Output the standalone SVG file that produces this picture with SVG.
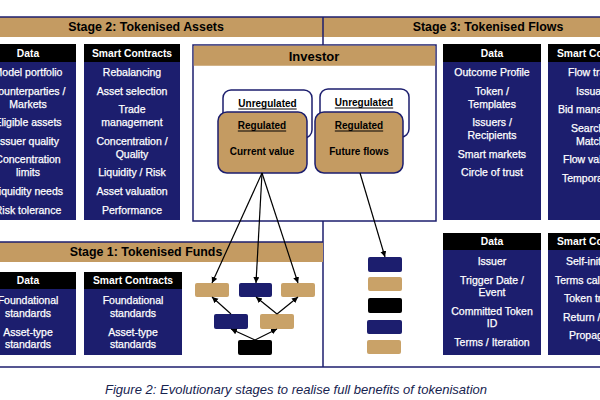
<svg xmlns="http://www.w3.org/2000/svg" width="600" height="400" viewBox="0 0 600 400">
<style>
.bar{fill:#C49B62}
.navy{fill:#1C1E6E}
.hdr{fill:#000}
.line{stroke:#1C1E6E;stroke-width:1.5;fill:none}
.stage{font-family:"Liberation Sans",Arial,sans-serif;font-weight:700;font-size:12.4px;fill:#000;text-anchor:middle;dominant-baseline:central}
.ht{font-family:"Liberation Sans",Arial,sans-serif;font-weight:700;font-size:10.3px;fill:#fff;text-anchor:middle;dominant-baseline:central}
.bt{font-family:"Liberation Sans",Arial,sans-serif;font-size:10.5px;fill:#fff;stroke:#fff;stroke-width:0.25;text-anchor:middle;dominant-baseline:central}
.bts{font-family:"Liberation Sans",Arial,sans-serif;font-size:10.5px;fill:#fff;stroke:#fff;stroke-width:0.25;text-anchor:start;dominant-baseline:central}
.bth{font-family:"Liberation Sans",Arial,sans-serif;font-weight:700;font-size:10.3px;fill:#fff;text-anchor:start;dominant-baseline:central}
.rt{font-family:"Liberation Sans",Arial,sans-serif;font-weight:700;font-size:10px;fill:#000;text-anchor:middle;dominant-baseline:central}
.ul{text-decoration:underline}
.unreg{fill:#fff;stroke:#1C1E6E;stroke-width:1.5}
.reg{fill:#C49B62;stroke:#1C1E6E;stroke-width:1.5}
.tan{fill:#C9A268}
.conn{stroke:#000;stroke-width:1.2;fill:none;marker-end:url(#ah)}
</style>
<defs>
<marker id="ah" markerUnits="userSpaceOnUse" markerWidth="7" markerHeight="7" refX="6" refY="3" orient="auto">
<path d="M0,0 L6,3 L0,6 z" fill="#000"/>
</marker>
</defs>
<rect width="600" height="400" fill="#fff"/>

<!-- frame -->
<g id="frame">
<rect class="bar" x="0" y="17" width="600" height="20"/>
<line class="line" x1="0" y1="17" x2="600" y2="17"/>
<line class="line" x1="323" y1="17" x2="323" y2="45"/>
<line class="line" x1="323" y1="221" x2="323" y2="367"/>
<rect class="bar" x="0" y="242" width="323" height="20"/>
<line class="line" x1="0" y1="242" x2="323" y2="242"/>
<line class="line" x1="0" y1="367" x2="600" y2="367"/>
<text class="stage" x="146" y="27">Stage 2: Tokenised Assets</text>
<text class="stage" x="488" y="27">Stage 3: Tokenised Flows</text>
<text class="stage" x="146" y="252">Stage 1: Tokenised Funds</text>
</g>

<!-- Stage 2 Data -->
<g id="s2-data">
<rect class="navy" x="-20" y="62" width="96" height="158"/>
<rect class="hdr" x="-20" y="44" width="96" height="18"/>
<text class="ht" x="28" y="53">Data</text>
<text class="bt" x="28" y="72">Model portfolio</text>
<text class="bt" x="28" y="91">Counterparties /</text>
<text class="bt" x="28" y="104">Markets</text>
<text class="bt" x="28" y="122">Eligible assets</text>
<text class="bt" x="28" y="141">Issuer quality</text>
<text class="bt" x="28" y="159">Concentration</text>
<text class="bt" x="28" y="172">limits</text>
<text class="bt" x="28" y="191">Liquidity needs</text>
<text class="bt" x="28" y="210">Risk tolerance</text>
</g>

<!-- Stage 2 Smart Contracts -->
<g id="s2-sc">
<rect class="navy" x="84" y="62" width="96" height="158"/>
<rect class="hdr" x="84" y="44" width="96" height="18"/>
<text class="ht" x="132" y="53">Smart Contracts</text>
<text class="bt" x="132" y="72">Rebalancing</text>
<text class="bt" x="132" y="91">Asset selection</text>
<text class="bt" x="132" y="109">Trade</text>
<text class="bt" x="132" y="122">management</text>
<text class="bt" x="132" y="141">Concentration /</text>
<text class="bt" x="132" y="154">Quality</text>
<text class="bt" x="132" y="172">Liquidity / Risk</text>
<text class="bt" x="132" y="191">Asset valuation</text>
<text class="bt" x="132" y="210">Performance</text>
</g>

<!-- Investor -->
<g id="investor">
<rect x="193" y="45" width="243" height="176" fill="#fff" stroke="#1C1E6E" stroke-width="1.5"/>
<rect class="bar" x="193.75" y="45.75" width="241.5" height="20"/>
<text class="stage" x="314" y="56" style="font-size:13px">Investor</text>
</g>

<g id="current-value">
<rect class="unreg" x="223" y="90" width="89" height="48" rx="8"/>
<text class="rt ul" x="267.5" y="103">Unregulated</text>
<rect class="reg" x="218" y="112" width="89" height="61" rx="9"/>
<text class="rt ul" x="262" y="125">Regulated</text>
<text class="rt" x="262" y="151">Current value</text>
</g>

<g id="future-flows">
<rect class="unreg" x="320" y="89" width="89" height="48" rx="8"/>
<text class="rt ul" x="364" y="102">Unregulated</text>
<rect class="reg" x="315" y="112" width="88" height="61" rx="9"/>
<text class="rt ul" x="359" y="125">Regulated</text>
<text class="rt" x="359" y="151">Future flows</text>
</g>

<!-- Stage 3 Data -->
<g id="s3-data">
<rect class="navy" x="443" y="62" width="98" height="158"/>
<rect class="hdr" x="443" y="44" width="98" height="18"/>
<text class="ht" x="492" y="53">Data</text>
<text class="bt" x="492" y="72">Outcome Profile</text>
<text class="bt" x="492" y="91">Token /</text>
<text class="bt" x="492" y="104">Templates</text>
<text class="bt" x="492" y="122">Issuers /</text>
<text class="bt" x="492" y="135">Recipients</text>
<text class="bt" x="492" y="154">Smart markets</text>
<text class="bt" x="492" y="172">Circle of trust</text>
</g>

<!-- Stage 3 Smart Contracts (clipped at edge) -->
<g id="s3-sc">
<rect class="navy" x="548" y="62" width="98" height="158"/>
<rect class="hdr" x="548" y="44" width="98" height="18"/>
<text class="bth" x="557" y="53">Smart Co</text>
<text class="bts" x="568" y="72">Flow tra</text>
<text class="bts" x="576" y="91">Issua</text>
<text class="bts" x="558" y="109">Bid mana</text>
<text class="bts" x="571" y="128">Search</text>
<text class="bts" x="576" y="141">Match</text>
<text class="bts" x="563" y="159">Flow val</text>
<text class="bts" x="562" y="178">Tempora</text>
</g>

<!-- Stage 1 Data -->
<g id="s1-data">
<rect class="navy" x="-20" y="289" width="96" height="66"/>
<rect class="hdr" x="-20" y="272" width="96" height="17"/>
<text class="ht" x="28" y="280.5">Data</text>
<text class="bt" x="28" y="300">Foundational</text>
<text class="bt" x="28" y="313">standards</text>
<text class="bt" x="28" y="332">Asset-type</text>
<text class="bt" x="28" y="344">standards</text>
</g>

<!-- Stage 1 Smart Contracts -->
<g id="s1-sc">
<rect class="navy" x="84" y="289" width="98" height="66"/>
<rect class="hdr" x="84" y="272" width="98" height="17"/>
<text class="ht" x="133" y="280.5">Smart Contracts</text>
<text class="bt" x="133" y="300">Foundational</text>
<text class="bt" x="133" y="313">standards</text>
<text class="bt" x="133" y="332">Asset-type</text>
<text class="bt" x="133" y="344">standards</text>
</g>

<!-- Bottom-right Data -->
<g id="flow-data">
<rect class="navy" x="443" y="250" width="98" height="105"/>
<rect class="hdr" x="443" y="233" width="98" height="17"/>
<text class="ht" x="492" y="241.5">Data</text>
<text class="bt" x="492" y="261">Issuer</text>
<text class="bt" x="492" y="280">Trigger Date /</text>
<text class="bt" x="492" y="292">Event</text>
<text class="bt" x="492" y="311">Committed Token</text>
<text class="bt" x="492" y="323">ID</text>
<text class="bt" x="492" y="342">Terms / Iteration</text>
</g>

<!-- Bottom-right Smart Contracts (clipped) -->
<g id="flow-sc">
<rect class="navy" x="548" y="250" width="98" height="105"/>
<rect class="hdr" x="548" y="233" width="98" height="17"/>
<text class="bth" x="557" y="241.5">Smart Co</text>
<text class="bts" x="566" y="261">Self-init</text>
<text class="bts" x="555" y="280">Terms cal</text>
<text class="bts" x="564" y="298">Token tr</text>
<text class="bts" x="563" y="317">Return /</text>
<text class="bts" x="569" y="335">Propag</text>
</g>

<!-- tree nodes -->
<g id="tree-t1"><rect class="tan" x="195" y="283" width="34" height="14" rx="2"/></g>
<g id="tree-n1"><rect class="navy" x="239" y="283" width="33" height="14" rx="2"/></g>
<g id="tree-t2"><rect class="tan" x="281" y="283" width="34" height="14" rx="2"/></g>
<g id="tree-n2"><rect class="navy" x="214" y="314" width="34" height="15" rx="2"/></g>
<g id="tree-t3"><rect class="tan" x="260" y="314" width="34" height="15" rx="2"/></g>
<g id="tree-b"><rect class="hdr" x="238" y="340" width="34" height="15" rx="2"/></g>

<!-- flow column nodes -->
<g id="col-n1"><rect class="navy" x="368" y="257" width="34" height="15" rx="2"/></g>
<g id="col-t1"><rect class="tan" x="368" y="277" width="34" height="14" rx="2"/></g>
<g id="col-b"><rect class="hdr" x="368" y="298" width="34" height="15" rx="2"/></g>
<g id="col-n2"><rect class="navy" x="367" y="320" width="35" height="14" rx="2"/></g>
<g id="col-t2"><rect class="tan" x="367" y="340" width="34" height="14" rx="2"/></g>

<!-- connectors -->
<g id="connectors">
<line class="conn" x1="262" y1="173" x2="212" y2="283"/>
<line class="conn" x1="262" y1="173" x2="256" y2="283"/>
<line class="conn" x1="262" y1="173" x2="298" y2="283"/>
<line class="conn" x1="360" y1="173" x2="385" y2="257"/>
<line class="conn" x1="231" y1="314" x2="212" y2="297"/>
<line class="conn" x1="277" y1="314" x2="256" y2="297"/>
<line class="conn" x1="277" y1="314" x2="298" y2="297"/>
<line class="conn" x1="255" y1="340" x2="231" y2="329"/>
<line class="conn" x1="255" y1="340" x2="277" y2="329"/>
</g>

<text x="296" y="394" font-family="'Liberation Sans',Arial,sans-serif" font-style="italic" font-size="13" fill="#16234F" text-anchor="middle" textLength="382" lengthAdjust="spacingAndGlyphs">Figure 2: Evolutionary stages to realise full benefits of tokenisation</text>
</svg>
